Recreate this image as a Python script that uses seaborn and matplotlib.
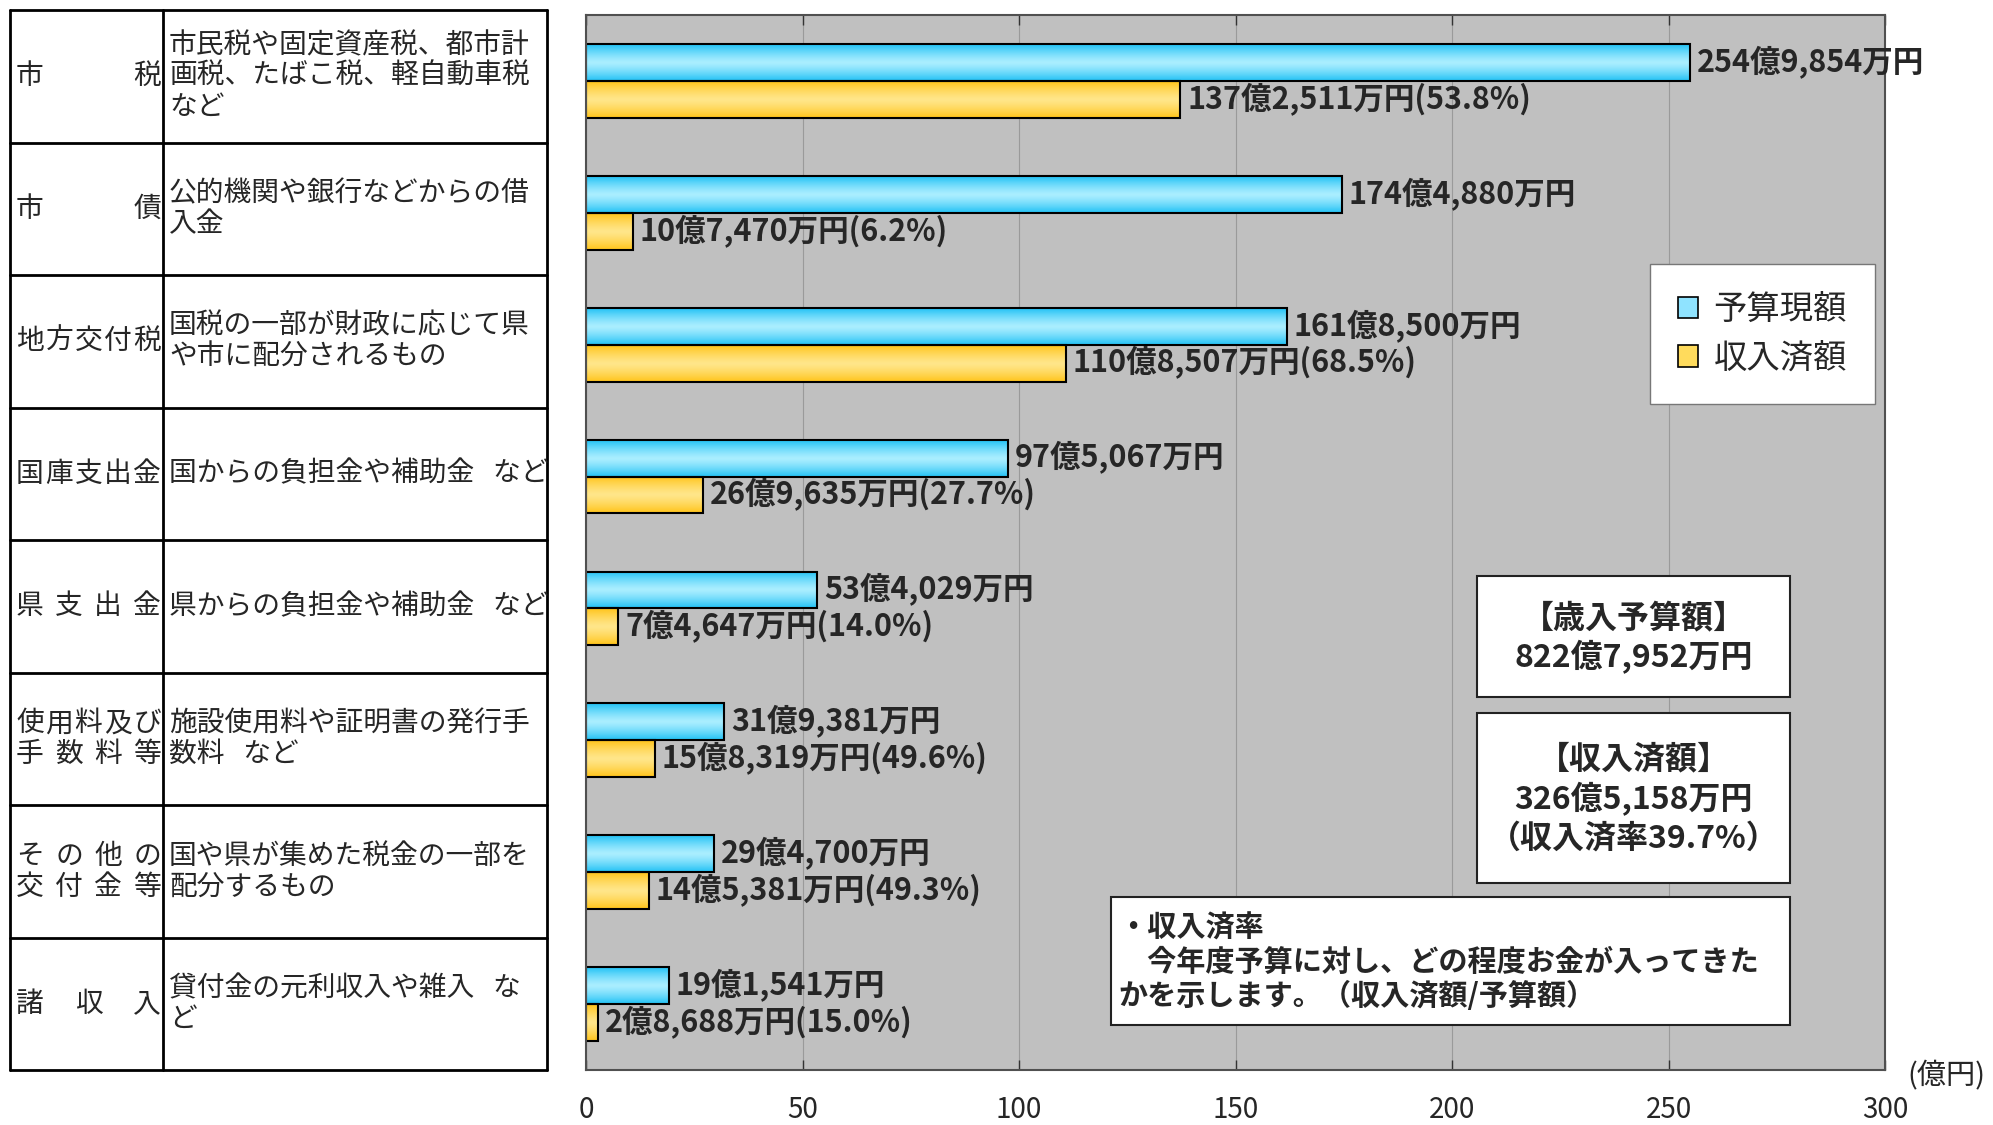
import matplotlib
matplotlib.use("Agg")
import matplotlib.pyplot as plt
from matplotlib.patches import Rectangle, Patch
import seaborn as sns
import numpy as np
import pandas as pd

# data (values in 万円)
categories = ["市税", "市債", "地方交付税", "国庫支出金", "県支出金",
              "使用料及び\n手数料等", "その他の\n交付金等", "諸収入"]
descriptions = [
    "市民税や固定資産税、都市計\n画税、たばこ税、軽自動車税\nなど",
    "公的機関や銀行などからの借\n入金",
    "国税の一部が財政に応じて県\nや市に配分されるもの",
    "国からの負担金や補助金   など",
    "県からの負担金や補助金   など",
    "施設使用料や証明書の発行手\n数料   など",
    "国や県が集めた税金の一部を\n配分するもの",
    "貸付金の元利収入や雑入   な\nど",
]
series = ["予算現額", "収入済額"]
budget = [2549854, 1744880, 1618500, 975067, 534029, 319381, 294700, 191541]
received = [1372511, 107470, 1108507, 269635, 74647, 158319, 145381, 28688]
rates = [53.8, 6.2, 68.5, 27.7, 14.0, 49.6, 49.3, 15.0]
xticks = [0, 50, 100, 150, 200, 250, 300]
note_lines = ["・収入済率",
              "　今年度予算に対し、どの程度お金が入ってきた",
              "かを示します。（収入済額/予算額）"]


def yen(v):
    return f"{v // 10000}億{v % 10000:,}万円"


W, H = 1993, 1125
sns.set_style("ticks")
plt.rcParams['font.family'] = ['Noto Sans CJK JP', 'DejaVu Sans']

df = pd.DataFrame({
    "区分": categories * 2,
    "系列": [series[0]] * len(budget) + [series[1]] * len(received),
    "億円": [b / 10000 for b in budget] + [r / 10000 for r in received],
})

fig = plt.figure(figsize=(W / 100, H / 100), dpi=100)
ax = fig.add_axes([586 / W, 1 - 1070 / H, 1299 / W, 1055 / H])
ax.set_facecolor("#c0c0c0")
sns.barplot(data=df, y="区分", x="億円", hue="系列", orient="h",
            palette=["#4fd3ff", "#ffd447"], width=0.56, saturation=1,
            edgecolor="black", linewidth=1.5, legend=False, ax=ax)

# vertical gradient fill like the original bars
grad_cols = [("#22c2f5", "#aaeeff"), ("#ffc41a", "#ffe68a")]
t = np.abs(np.linspace(-1, 1, 64))[:, None, None]
for cont, (edge, mid) in zip(ax.containers, grad_cols):
    e = np.array(matplotlib.colors.to_rgb(edge))
    m = np.array(matplotlib.colors.to_rgb(mid))
    img = m + (e - m) * t ** 1.3
    for p in cont:
        x0, y0 = p.get_x(), p.get_y()
        ax.imshow(img, extent=(x0, x0 + p.get_width(), y0 + p.get_height(), y0),
                  aspect="auto", interpolation="bilinear", zorder=1.5)
        p.set_facecolor("none")
        p.set_zorder(2)

ax.bar_label(ax.containers[0], labels=[yen(v) for v in budget],
             padding=5, fontsize=22, fontweight="bold")
ax.bar_label(ax.containers[1],
             labels=[f"{yen(v)}({r:.1f}%)" for v, r in zip(received, rates)],
             padding=5, fontsize=22, fontweight="bold")

ax.set_xlim(0, 300)
ax.set_ylim(len(categories) - 0.5, -0.5)
ax.set_xticks(xticks)
ax.set_yticks(range(len(categories)))
ax.set_yticklabels([])
ax.set_xlabel("")
ax.set_ylabel("")
ax.xaxis.grid(True, color="#9a9a9a", lw=0.8)
ax.set_axisbelow(True)
ax.tick_params(axis="x", direction="in", top=True, bottom=True, length=7,
               width=1, color="#333333", pad=18, labelsize=20)
ax.tick_params(axis="y", length=0)
for s in ax.spines.values():
    s.set_color("#505050")
    s.set_linewidth(1.5)

handles = [Patch(facecolor="#8fe3ff", edgecolor="black", lw=1.2),
           Patch(facecolor="#ffdb5c", edgecolor="black", lw=1.2)]
ax.legend(handles, series, loc="upper left",
          bbox_to_anchor=(1650 / W, 1 - 264 / H), bbox_transform=fig.transFigure,
          frameon=True, fancybox=False, edgecolor="#777777", framealpha=1,
          fontsize=24, handlelength=0.6, handleheight=0.6, handletextpad=0.45,
          borderpad=0.85, labelspacing=0.4, borderaxespad=0)

# overlay in pixel coordinates for the table and the text boxes
ov = fig.add_axes([0, 0, 1, 1], zorder=5)
ov.set_xlim(0, W)
ov.set_ylim(H, 0)
ov.axis("off")
ov.patch.set_alpha(0)

top, rowh = 10, 132.5
n = len(categories)
for x in (10, 163, 547):
    ov.plot([x, x], [top, top + rowh * n], color="black", lw=2)
for i in range(n + 1):
    ov.plot([10, 547], [top + rowh * i] * 2, color="black", lw=2)

cw = 27.8
for i, (cat, desc) in enumerate(zip(categories, descriptions)):
    cy = top + rowh * (i + 0.5)
    lines = cat.split("\n")
    for j, line in enumerate(lines):
        y = cy + (j - (len(lines) - 1) / 2) * 31
        xs = np.linspace(16 + cw / 2, 161 - cw / 2, len(line))
        for ch, x in zip(line, xs):
            ov.text(x, y, ch, fontsize=20, ha="center", va="center")
    dl = desc.split("\n")
    for j, line in enumerate(dl):
        y = cy + (j - (len(dl) - 1) / 2) * 31
        ov.text(169, y, line, fontsize=20, ha="left", va="center")

ov.text(1946, 1076, "(億円)", fontsize=21, ha="center", va="center")

tb, tr = sum(budget), sum(received)
boxes = [
    ((1477, 576, 313, 121), ["【歳入予算額】", yen(tb)], [618, 657]),
    ((1477, 713, 313, 170), ["【収入済額】", yen(tr), f"（収入済率{tr / tb * 100:.1f}%）"],
     [759, 799, 839]),
]
for (x, y, w, h), lines, ys in boxes:
    ov.add_patch(Rectangle((x, y), w, h, facecolor="white", edgecolor="#222222", lw=1.5))
    for line, ly in zip(lines, ys):
        ov.text(x + w / 2, ly, line, fontsize=23, fontweight="bold",
                ha="center", va="center")

ov.add_patch(Rectangle((1111, 897), 679, 128, facecolor="white",
                       edgecolor="#222222", lw=1.5))
for line, ly in zip(note_lines, [928, 962, 996]):
    ov.text(1118, ly, line, fontsize=21, fontweight="bold", ha="left", va="center")

fig.savefig("out.png", dpi=100)
